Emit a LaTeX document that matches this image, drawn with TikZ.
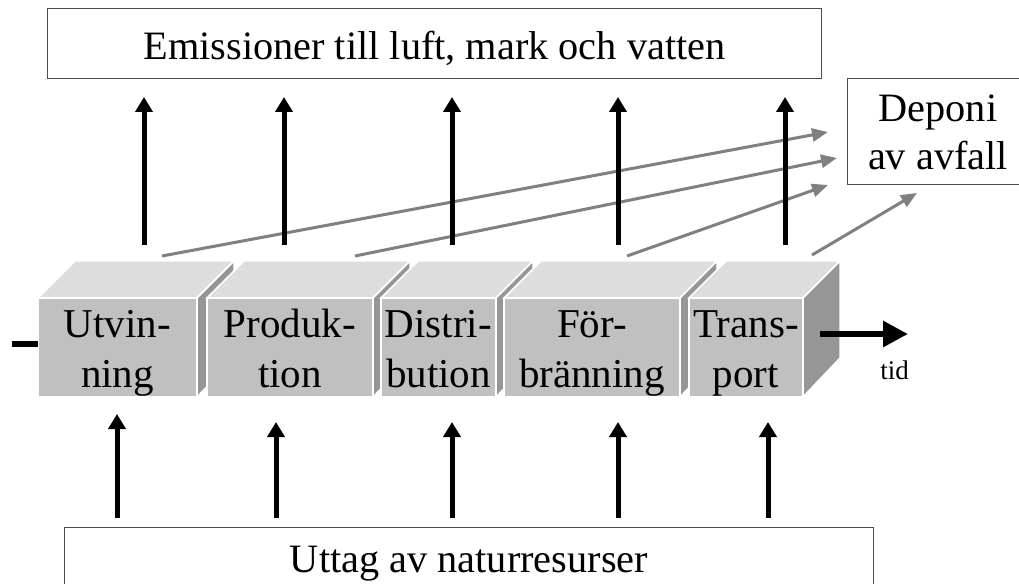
\documentclass[tikz,border=0pt]{standalone}
\usepackage{fontspec}
\setmainfont{Liberation Serif}
\usetikzlibrary{arrows.meta}
\definecolor{frontgray}{HTML}{C0C0C0}
\definecolor{topgray}{HTML}{DDDDDD}
\definecolor{sidegray}{HTML}{969696}
\definecolor{wastegray}{HTML}{808080}
\newcommand{\facestrut}{\rule[-10bp]{0pt}{49bp}}

\begin{document}
\begin{tikzpicture}[x=1bp,y=-1bp,
    box/.style={draw=black!70,line width=1bp,inner sep=0pt,outer sep=0pt,align=center,font=\fontsize{40.3bp}{48bp}\selectfont},
    face/.style={fill=frontgray,draw=white,line width=1.5bp,inner sep=0pt,outer sep=0pt,minimum height=97bp,align=center,font=\fontsize{41bp}{50bp}\selectfont},
    topface/.style={fill=topgray,draw=white,line width=1.5bp},
    sideface/.style={fill=sidegray,draw=white,line width=1.5bp},
    flow/.style={line width=5bp,-{Triangle[width=17bp,length=15bp]}},
    waste/.style={draw=wastegray,line width=3bp,-{Triangle[width=13bp,length=16bp]}}]
    \useasboundingbox (0,0) rectangle (1019,584);
    \clip (0,0) rectangle (1019,584);

    % boxes
    \node[box,minimum width=773bp,minimum height=70bp,text height=32bp,text depth=0bp] at (434.5,44) (emis) {Emissioner till luft, mark och vatten};
    \node[box,minimum width=182bp,minimum height=106bp] at (938,132) (depo) {Deponi\\av avfall};
    \node[box,minimum width=808bp,minimum height=74bp] at (469,564) (uttag) {Uttag av naturresurser};

    % the chain of process blocks
    \foreach \n/\cx/\w/\txt in {utv/117.5/159/{\facestrut Utvin-\\\facestrut ning},
                               prod/290/166/{\facestrut Produk-\\\facestrut tion},
                               dist/438.5/115/{\facestrut Distri-\\\facestrut bution},
                               forb/592/176/{\facestrut För-\\\facestrut bränning},
                               trans/746/114/{\facestrut Trans-\\\facestrut port}} {
        \node[face,minimum width=\w bp] at (\cx,347.5) (\n) {\txt};
        \filldraw[topface] (\n.north west) -- ++(37,-37) -- ([shift={(37,-37)}]\n.north east) -- (\n.north east) -- cycle;
        \filldraw[sideface] (\n.north east) -- ++(37,-37) -- ++(0,97) -- (\n.south east) -- cycle;
    }

    % time axis
    \coordinate (s0) at (12,344);
    \coordinate (t0) at (820,334);
    \coordinate (t1) at (908,334);
    \draw[line width=6bp] (s0) -- (s0 -| utv.west);
    \draw[line width=6bp,-{Triangle[width=25bp,length=25bp]}] (t0) -- (t1);
    \node[font=\fontsize{27bp}{32bp}\selectfont,anchor=base,inner sep=0pt] at (894.5,379) (tid) {tid};

    % waste
    \coordinate (wa1) at (162,256);  \coordinate (wb1) at (828,132);
    \coordinate (wa2) at (355,256);  \coordinate (wb2) at (837,158);
    \coordinate (wa3) at (627,256);  \coordinate (wb3) at (828,185);
    \coordinate (wa4) at (812,255);  \coordinate (wb4) at (917,193);
    \draw[waste] (wa1) -- (wb1);
    \draw[waste] (wa2) -- (wb2);
    \draw[waste] (wa3) -- (wb3);
    \draw[waste] (wa4) -- (wb4);

    % emissions
    \coordinate (e1) at (144,245);
    \coordinate (e2) at (284,245);
    \coordinate (e3) at (452,245);
    \coordinate (e4) at (618,245);
    \coordinate (e5) at (785,245);
    \draw[flow,shorten >=18bp] (e1) -- (e1 |- emis.south);
    \draw[flow,shorten >=18bp] (e2) -- (e2 |- emis.south);
    \draw[flow,shorten >=18bp] (e3) -- (e3 |- emis.south);
    \draw[flow,shorten >=18bp] (e4) -- (e4 |- emis.south);
    \draw[flow,shorten >=18bp] (e5) -- (e5 |- emis.south);

    % resources
    \coordinate (r1) at (117,414);
    \coordinate (r2) at (276,422);
    \coordinate (r3) at (452,422);
    \coordinate (r4) at (618,422);
    \coordinate (r5) at (768,422);
    \draw[flow,shorten <=9bp] (r1 |- uttag.north) -- (r1);
    \draw[flow,shorten <=9bp] (r2 |- uttag.north) -- (r2);
    \draw[flow,shorten <=9bp] (r3 |- uttag.north) -- (r3);
    \draw[flow,shorten <=9bp] (r4 |- uttag.north) -- (r4);
    \draw[flow,shorten <=9bp] (r5 |- uttag.north) -- (r5);
\end{tikzpicture}
\end{document}
